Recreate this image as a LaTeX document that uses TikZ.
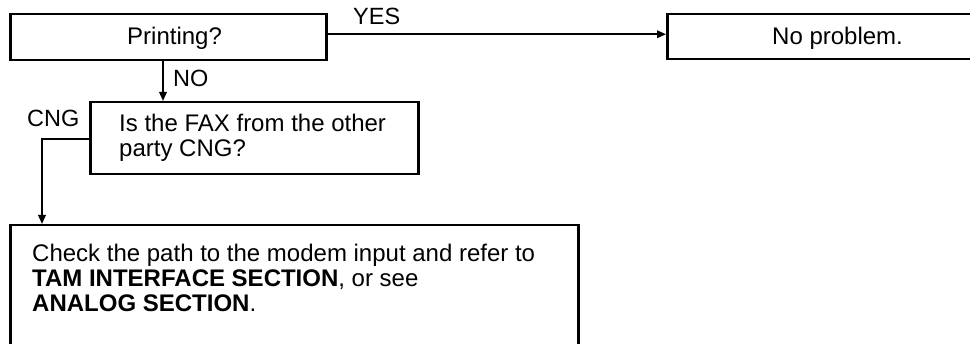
\documentclass[tikz,border=0pt]{standalone}
\usepackage{fontspec}
\setmainfont{Liberation Sans}
\usetikzlibrary{arrows.meta}
\begin{document}
\begin{tikzpicture}[x=1pt,y=-1pt,
  frame/.style={draw,line width=2.5pt,rectangle,inner sep=0pt,anchor=north west},
  txt/.style={inner sep=0pt,anchor=base west,align=left,font=\fontsize{24}{25}\selectfont},
  lbl/.style={inner sep=0pt,anchor=base west,font=\fontsize{23.5}{25}\selectfont},
  arr/.style={line width=1.7pt,-{Triangle[length=9pt,width=7.5pt]}}]
\useasboundingbox (0,0) rectangle (970,344);
\clip (0,0) rectangle (970,344);
% boxes
\node[frame,minimum width=316pt,minimum height=46pt] (b1) at (9,13) {};
\node[frame,minimum width=360pt,minimum height=45pt] (np) at (666,13) {};
\node[frame,minimum width=328pt,minimum height=72pt] (b2) at (89,101) {};
\node[frame,minimum width=568pt,minimum height=150pt] (b3) at (9,224) {};
% texts (base = last line)
\node[txt] (t1) at (127,45) {Printing?};
\node[txt] (tnp) at (772,45) {No problem.};
\node[txt] (t2) at (119,157) {Is the FAX from the other\\party CNG?};
\node[txt] (t3) at (32,312) {Check the path to the modem input and refer to\\\textbf{TAM INTERFACE SECTION}, or see\\\textbf{ANALOG SECTION}.};
% labels
\node[lbl] (yes) at (353,25) {YES};
\node[lbl] (no) at (173,87) {NO};
\node[lbl] (cng) at (27,127) {CNG};
% connectors
\draw[arr] ([yshift=3pt]b1.east) -- ([yshift=3pt]b1.east -| np.west);
\draw[arr] ([xshift=154pt]b1.south west) -- ([xshift=74pt]b2.north west);
\draw[arr] ([yshift=-1pt]b2.west) -| ([xshift=33pt]b3.north west);
\end{tikzpicture}
\end{document}
